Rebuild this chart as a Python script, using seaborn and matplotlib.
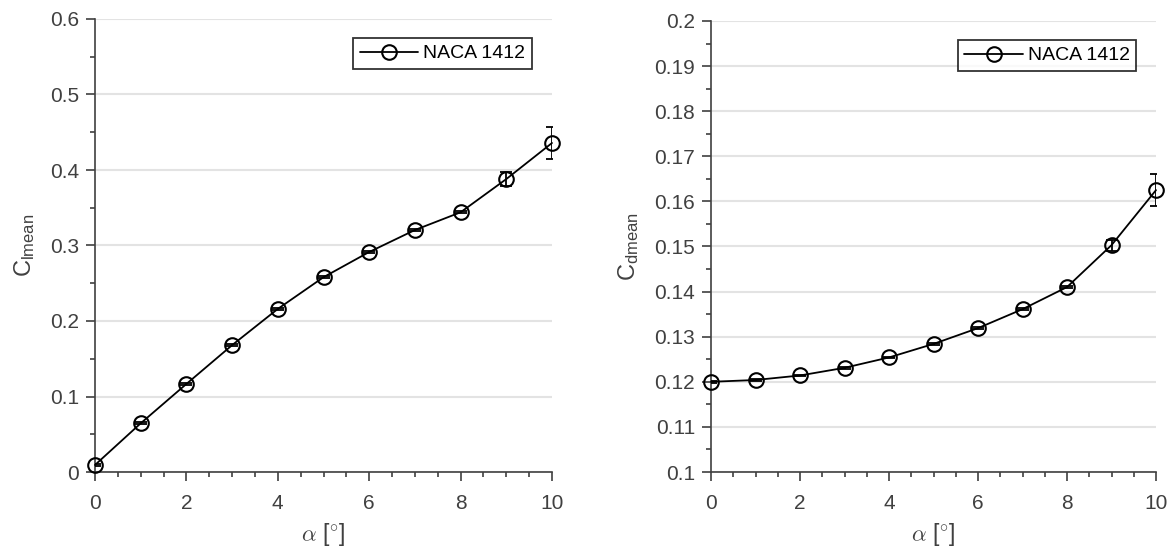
import numpy as np
import pandas as pd
import matplotlib
matplotlib.use("Agg")
import matplotlib.pyplot as plt
from matplotlib.ticker import MultipleLocator, FormatStrFormatter
import seaborn as sns

# Angle of attack and measured mean coefficients (NACA 1412)
alpha = [0, 1, 2, 3, 4, 5, 6, 7, 8, 9, 10]
cl_mean = [0.0093, 0.0645, 0.1166, 0.1680, 0.2160, 0.2580, 0.2914, 0.3205, 0.3440, 0.3880, 0.4358]
cl_err = [0.0015, 0.0015, 0.0015, 0.0015, 0.0015, 0.0015, 0.0015, 0.0015, 0.0015, 0.0095, 0.0215]
cd_mean = [0.1200, 0.1204, 0.1214, 0.1231, 0.1254, 0.1284, 0.1319, 0.1361, 0.1410, 0.1503, 0.1625]
cd_err = [0.0002, 0.0002, 0.0002, 0.0002, 0.0002, 0.0002, 0.0002, 0.0002, 0.0003, 0.0012, 0.0035]
series_label = "NACA 1412"

sns.set_theme(style="white")
plt.rcParams["font.family"] = ["Liberation Sans", "DejaVu Sans"]

AX_COLOR = "#404040"
GRID_COLOR = "#e3e3e3"

fig = plt.figure(figsize=(11.76, 5.46), dpi=100)
ax_l = fig.add_axes([95 / 1176, 1 - 472 / 546, 457 / 1176, 453 / 546])
ax_r = fig.add_axes([711 / 1176, 1 - 472 / 546, 445 / 1176, 451 / 546])

panels = [
    (ax_l, cl_mean, cl_err, (0, 0.6), 0.1, 0.05, r"$\mathregular{C_{lmean}}$", -0.128),
    (ax_r, cd_mean, cd_err, (0.1, 0.2), 0.01, 0.005, r"$\mathregular{C_{dmean}}$", -0.157),
]

for ax, yvals, yerr, ylim, major, minor, ylab, ylab_x in panels:
    df = pd.DataFrame({"alpha": alpha, "value": yvals})
    # error bars stay clipped to the plotting box
    ax.errorbar(alpha, yvals, yerr=yerr, fmt="none", ecolor="black",
                elinewidth=1.3, capsize=4, capthick=1.3, zorder=3)
    n_before = len(ax.get_lines())
    sns.lineplot(data=df, x="alpha", y="value", ax=ax, color="black",
                 linewidth=1.3, marker="o", markersize=10.5,
                 markerfacecolor="none", markeredgecolor="black",
                 markeredgewidth=1.5, label=series_label, zorder=4)
    # markers at the axis edge are drawn in full
    for ln in ax.get_lines()[n_before:]:
        ln.set_clip_on(False)

    ax.set_xlim(0, 10)
    ax.set_ylim(*ylim)
    ax.xaxis.set_major_locator(MultipleLocator(2))
    ax.xaxis.set_minor_locator(MultipleLocator(0.5))
    ax.yaxis.set_major_locator(MultipleLocator(major))
    ax.yaxis.set_minor_locator(MultipleLocator(minor))
    ax.yaxis.set_major_formatter(FormatStrFormatter("%g"))

    ax.grid(False)
    ax.yaxis.grid(True, which="major", color=GRID_COLOR, linewidth=1.5)
    ax.set_axisbelow(True)

    for side in ["top", "right"]:
        ax.spines[side].set_visible(False)
    for side in ["left", "bottom"]:
        ax.spines[side].set_color(AX_COLOR)
        ax.spines[side].set_linewidth(1.2)

    ax.tick_params(which="major", direction="out", length=6.5, width=1.2,
                   color=AX_COLOR, labelcolor=AX_COLOR, labelsize=15, pad=5,
                   left=True, bottom=True)
    ax.tick_params(axis="x", which="major", pad=9)
    ax.tick_params(which="minor", direction="out", length=3.5, width=1.2,
                   color=AX_COLOR, left=True, bottom=True)

    ax.set_xlabel(r"$\alpha$ [$^{\circ}$]", fontsize=16.5, color=AX_COLOR,
                  math_fontfamily="cm", labelpad=6)
    ax.set_ylabel(ylab, fontsize=17, color=AX_COLOR)
    ax.yaxis.set_label_coords(ylab_x, 0.5)

    leg = ax.legend(loc="upper right", bbox_to_anchor=(0.956, 0.958),
                    borderaxespad=0, frameon=True, fancybox=False,
                    fontsize=14, handlelength=3.0, handletextpad=0.25,
                    borderpad=0.35, edgecolor="black")
    leg.get_frame().set_linewidth(1.3)
    for t in leg.get_texts():
        t.set_color("black")

fig.savefig("out.png", dpi=100)
